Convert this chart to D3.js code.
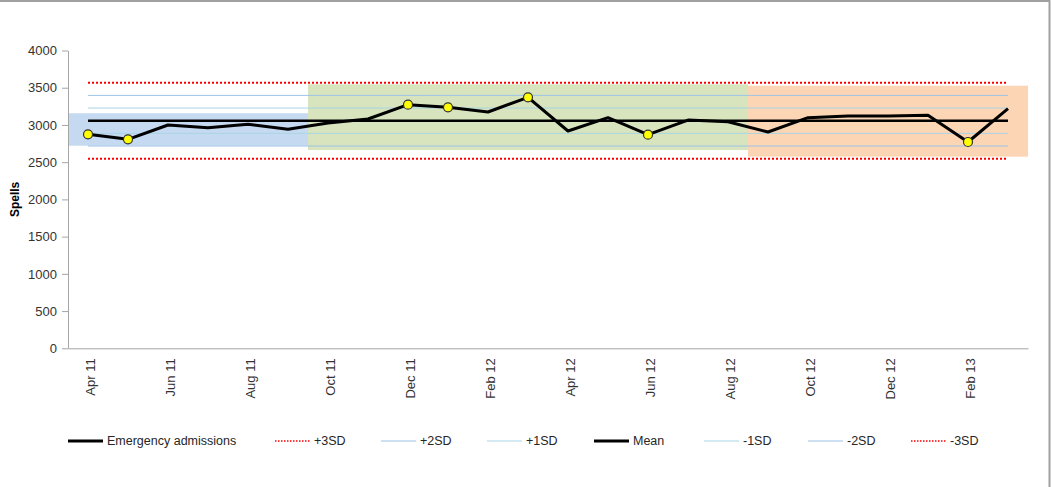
<!DOCTYPE html>
<html>
<head>
<meta charset="utf-8">
<script src="https://cdn.jsdelivr.net/npm/d3@7"></script>
<style>
  body { margin: 0; background: #fff; }
  svg { font-family: "Liberation Sans", Arial, sans-serif; }
  .axis text { font-size: 13px; fill: #333; }
  .axis path, .axis line { stroke: #a6a6a6; }
</style>
</head>
<body>
<script>
// months on the x axis
const months = ["Apr 11", "May 11", "Jun 11", "Jul 11", "Aug 11", "Sep 11", "Oct 11", "Nov 11",
  "Dec 11", "Jan 12", "Feb 12", "Mar 12", "Apr 12", "May 12", "Jun 12", "Jul 12", "Aug 12",
  "Sep 12", "Oct 12", "Nov 12", "Dec 12", "Jan 13", "Feb 13", "Mar 13"];
// shown every second month
const monthTicks = ["Apr 11", "Jun 11", "Aug 11", "Oct 11", "Dec 11", "Feb 12", "Apr 12",
  "Jun 12", "Aug 12", "Oct 12", "Dec 12", "Feb 13"];

// emergency admissions (spells) per month
const admissions = [2874, 2807, 2999, 2963, 3009, 2941, 3026, 3080, 3272, 3237, 3174, 3371,
  2919, 3098, 2869, 3066, 3044, 2905, 3098, 3120, 3120, 3129, 2771, 3218];
// points highlighted with a yellow marker
const flagged = ["Apr 11", "May 11", "Dec 11", "Jan 12", "Mar 12", "Jun 12", "Feb 13"];

// control limits
const meanValue = 3057;
const sdValue = 170;

// shaded phases: first month, last month, low, high
const phaseStart = ["Apr 11", "Oct 11", "Sep 12"];
const phaseEnd = ["Sep 11", "Aug 12", "Mar 13"];
const phaseLow = [2721, 2663, 2574];
const phaseHigh = [3157, 3546, 3527];
const phaseColors = ["#c5d9f1", "#d7e4bd", "#fcd5b5"];

const yTicks = [0, 500, 1000, 1500, 2000, 2500, 3000, 3500, 4000];

const W = 1051, H = 487;
const margin = { top: 50.5, left: 68 };
const width = 960;
const height = 297.8;

const svg = d3.select("body").append("svg")
    .attr("width", W)
    .attr("height", H);

// frame (top and right edges only)
svg.append("line").attr("x1", 0).attr("x2", 1050).attr("y1", 1).attr("y2", 1)
    .attr("stroke", "#a0a0a0").attr("stroke-width", 2);
svg.append("line").attr("x1", 1049.5).attr("x2", 1049.5).attr("y1", 0).attr("y2", H)
    .attr("stroke", "#a0a0a0").attr("stroke-width", 2);

const g = svg.append("g")
    .attr("transform", "translate(" + margin.left + "," + margin.top + ")");

const x = d3.scaleBand().domain(months).range([0, width]).padding(0);
const cx = d => x(d) + x.bandwidth() / 2;
const y = d3.scaleLinear().domain([0, 4000]).range([height, 0]);

// phase bands
g.selectAll("rect.phase")
    .data(phaseStart)
    .enter()
    .append("rect")
    .attr("class", "phase")
    .attr("x", d => x(d))
    .attr("width", (d, i) => x(phaseEnd[i]) + x.bandwidth() - x(d))
    .attr("y", (d, i) => y(phaseHigh[i]))
    .attr("height", (d, i) => y(phaseLow[i]) - y(phaseHigh[i]))
    .attr("fill", (d, i) => phaseColors[i]);

// control lines
const limits = [
    { name: "+3SD", k: 3, color: "#ff0000", w: 2, dash: "2,2" },
    { name: "+2SD", k: 2, color: "#9dc3e6", w: 1, dash: null },
    { name: "+1SD", k: 1, color: "#a9d4e4", w: 1, dash: null },
    { name: "Mean", k: 0, color: "#000000", w: 2.5, dash: null },
    { name: "-1SD", k: -1, color: "#a9d4e4", w: 1, dash: null },
    { name: "-2SD", k: -2, color: "#9dc3e6", w: 1, dash: null },
    { name: "-3SD", k: -3, color: "#ff0000", w: 2, dash: "2,2" }
];

g.selectAll("line.limit")
    .data(limits)
    .enter()
    .append("line")
    .attr("class", "limit")
    .attr("x1", cx(months[0]))
    .attr("x2", cx(months[months.length - 1]))
    .attr("y1", d => y(meanValue + d.k * sdValue))
    .attr("y2", d => y(meanValue + d.k * sdValue))
    .attr("stroke", d => d.color)
    .attr("stroke-width", d => d.w)
    .attr("stroke-dasharray", d => d.dash);

// y axis
g.append("g")
    .attr("class", "axis")
    .call(d3.axisLeft(y).tickValues(yTicks).tickFormat(d3.format("d"))
        .tickSize(6).tickSizeOuter(0).tickPadding(5));

// x axis
const xAxis = g.append("g")
    .attr("class", "axis")
    .attr("transform", "translate(0," + height + ")")
    .call(d3.axisBottom(x).tickValues(monthTicks).tickSize(0).tickSizeOuter(0));
xAxis.selectAll("text")
    .attr("transform", "rotate(-90)")
    .attr("text-anchor", "end")
    .attr("x", -10)
    .attr("y", 2)
    .attr("dy", "0.35em");

// y label
svg.append("text")
    .attr("transform", "translate(19," + (margin.top + height / 2) + ") rotate(-90)")
    .attr("text-anchor", "middle")
    .style("font-size", "12px")
    .style("font-weight", "bold")
    .text("Spells");

// admissions line
const line = d3.line()
    .x((d, i) => cx(months[i]))
    .y(d => y(d));

g.append("path")
    .datum(admissions)
    .attr("fill", "none")
    .attr("stroke", "#000")
    .attr("stroke-width", 3)
    .attr("stroke-linejoin", "round")
    .attr("d", line);

g.selectAll("circle.flag")
    .data(flagged)
    .enter()
    .append("circle")
    .attr("class", "flag")
    .attr("cx", d => cx(d))
    .attr("cy", d => y(admissions[months.indexOf(d)]))
    .attr("r", 4.5)
    .attr("fill", "#ffff00")
    .attr("stroke", "#333")
    .attr("stroke-width", 1.2);

// legend
const legendItems = [
    { name: "Emergency admissions", color: "#000", w: 3, dash: null, x: 68 }
].concat(limits.map((d, i) => ({
    name: d.name, color: d.color, w: d.dash ? 1.5 : (d.k === 0 ? 3 : 1),
    dash: d.dash ? "1.5,1.5" : null, x: [275, 381, 487, 594, 704, 808, 911][i]
})));

const legend = svg.append("g").attr("transform", "translate(0,441)");
const item = legend.selectAll("g")
    .data(legendItems)
    .enter()
    .append("g")
    .attr("transform", d => "translate(" + d.x + ",0)");
item.append("line")
    .attr("x1", 0).attr("x2", 35)
    .attr("stroke", d => d.color)
    .attr("stroke-width", d => d.w)
    .attr("stroke-dasharray", d => d.dash);
item.append("text")
    .attr("x", 39)
    .attr("dy", "0.35em")
    .style("font-size", "12.5px")
    .style("fill", "#262626")
    .text(d => d.name);
</script>
</body>
</html>
